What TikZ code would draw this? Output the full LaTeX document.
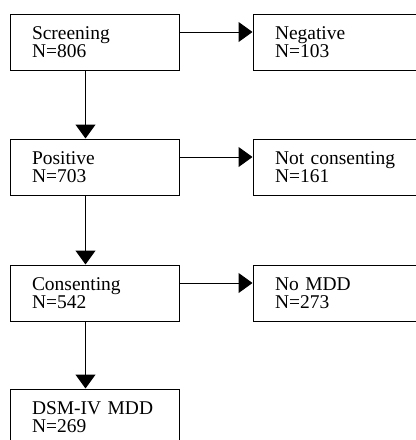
\documentclass[tikz,border=0pt]{standalone}
\usepackage{fontspec}
\setmainfont{Liberation Serif}
\usetikzlibrary{arrows.meta}

\begin{document}
\begin{tikzpicture}[
  x=0.75pt, y={(0pt,-0.75pt)},
  font=\fontsize{14.6}{13.7}\selectfont,
  stage/.style={rectangle, draw, line width=0.75pt, minimum width=126.75pt,
                minimum height=42pt, text width=93.75pt, inner xsep=16.5pt,
                inner ysep=0pt, align=left},
  link/.style={-{Triangle[length=10.5pt, width=15pt]}, line width=0.75pt}
]
\clip (0,0) rectangle (416,440);
\fill[white] (0,0) rectangle (416,440);

% --- Main path ---
\node[stage] (screen) at (94.5, 42) {Screening\\N=806};
\node[stage] (pos)    at (94.5, 167) {Positive\\N=703};
\node[stage] (cons)   at (94.5, 293) {Consenting\\N=542};
\node[stage] (mdd)    at (94.5, 417) {DSM-IV MDD\\N=269};

% --- Exclusions ---
\node[stage] (neg)     at (337.5, 42) {Negative\\N=103};
\node[stage] (notcons) at (337.5, 167) {Not consenting\\N=161};
\node[stage] (nomdd)   at (337.5, 293) {No MDD\\N=273};

% --- Arrows ---
\draw[link] ([xshift=-6.75pt]screen.south) -- ([xshift=-6.75pt]pos.north);
\draw[link] ([xshift=-6.75pt]pos.south) -- ([xshift=-6.75pt]cons.north);
\draw[link] ([xshift=-6.75pt]cons.south) -- ([xshift=-6.75pt]mdd.north);
\draw[link] ([yshift=7.5pt]screen.east) -- ([yshift=7.5pt]neg.west);
\draw[link] ([yshift=7.5pt]pos.east) -- ([yshift=7.5pt]notcons.west);
\draw[link] ([yshift=7.5pt]cons.east) -- ([yshift=7.5pt]nomdd.west);

\end{tikzpicture}
\end{document}
